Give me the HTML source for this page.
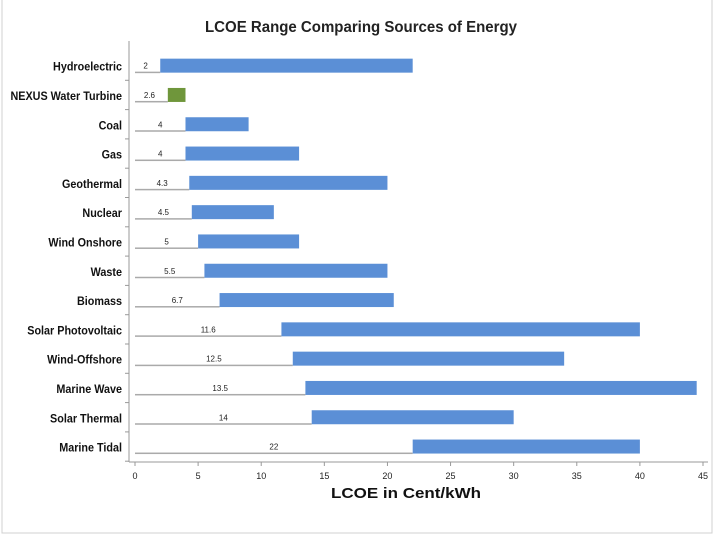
<!DOCTYPE html>
<html><head><meta charset="utf-8"><style>
body{margin:0;background:#fff;width:720px;height:540px;overflow:hidden;font-family:"Liberation Sans",sans-serif}
</style></head><body>
<svg width="720" height="540">
<rect x="2" y="-2" width="710" height="535" fill="#fff" stroke="#d0d0d0"/>
<text x="361" y="32" text-anchor="middle" font-size="16" font-weight="bold" fill="#222" textLength="312" lengthAdjust="spacingAndGlyphs">LCOE Range Comparing Sources of Energy</text>
<g id="plot"></g>
<text x="406" y="498" text-anchor="middle" font-size="15" font-weight="bold" fill="#111" textLength="150" lengthAdjust="spacingAndGlyphs">LCOE in Cent/kWh</text>
</svg>
<script>
const categories=["Hydroelectric","NEXUS Water Turbine","Coal","Gas","Geothermal","Nuclear","Wind Onshore","Waste","Biomass","Solar Photovoltaic","Wind-Offshore","Marine Wave","Solar Thermal","Marine Tidal"];
const minValues=[2,2.6,4,4,4.3,4.5,5,5.5,6.7,11.6,12.5,13.5,14,22];
const maxValues=[22,4,9,13,20,11,13,20,20.5,40,34,44.5,30,40];
const xTicks=[0,5,10,15,20,25,30,35,40,45];
const NS="http://www.w3.org/2000/svg";
const g=document.getElementById('plot');
const x0=135,x1=703,xMax=45,yTop=51,rowH=29.3;
const xs=v=>x0+(x1-x0)*v/xMax;
const yc=i=>yTop+rowH*(i+0.5);
function mk(t,a){const e=document.createElementNS(NS,t);for(const k in a)e.setAttribute(k,a[k]);g.appendChild(e);return e;}
let ax=mk('line',{x1:129,y1:462,x2:708,y2:462,stroke:'#999'});


let ay=mk('line',{x1:129,y1:yTop-10,x2:129,y2:462,stroke:'#999'});


xTicks.forEach(t=>{
  mk('line',{x1:xs(t),y1:462,x2:xs(t),y2:466,stroke:'#999'});
  const l=mk('text',{x:xs(t),y:479,'text-anchor':'middle','font-size':9,fill:'#222'});
  l.textContent=t;
  
  
});
categories.forEach((c,i)=>{
  const y=yc(i);
  mk('line',{x1:125,y1:y+rowH/2,x2:129,y2:y+rowH/2,stroke:'#999'});
  const lb=mk('text',{x:0,y:0,'text-anchor':'end','font-size':12,'font-weight':'bold',fill:'#111',transform:'translate(122,'+(y+5)+') scale(0.9,1)'});
  lb.textContent=c;
  
  
  const base=mk('rect',{x:x0,y:y+6,width:xs(minValues[i])-x0,height:1.5,fill:'#aaa'});
  
  
  const b=mk('rect',{x:xs(minValues[i]),y:y-7,width:xs(maxValues[i])-xs(minValues[i]),height:14,fill:i===1?'#6f963b':'#5b8fd6'});
  
  
  const v=mk('text',{x:xs(minValues[i]/2)+(i<2?-2:0),y:y+3,'text-anchor':'middle','font-size':8,fill:'#222'});
  v.textContent=minValues[i];
  
  
});
</script>
</body></html>
